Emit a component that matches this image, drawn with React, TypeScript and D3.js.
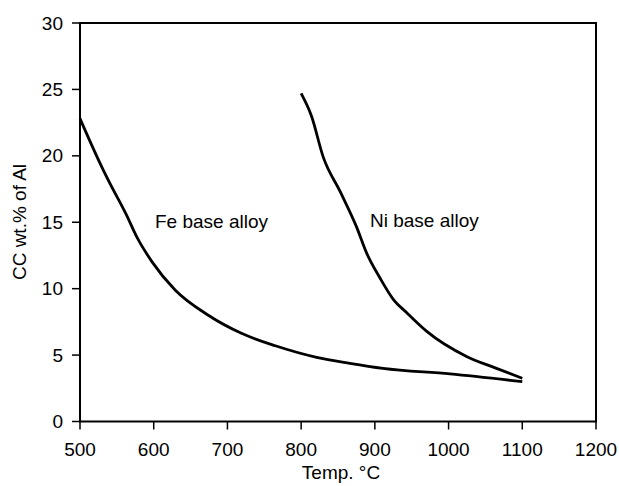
import React from "react";
import * as d3 from "d3";

const xTicks = [500, 600, 700, 800, 900, 1000, 1100, 1200];
const yTicks = [0, 5, 10, 15, 20, 25, 30];

const feTemp = [500, 525, 538, 563, 577, 598, 629, 674, 719, 765, 821, 866, 911, 1002, 1100];
const feAl = [22.8, 19.7, 18.2, 15.55, 13.9, 12.0, 9.9, 8.0, 6.64, 5.7, 4.83, 4.38, 4.0, 3.58, 3.0];

const niTemp = [800, 814, 830, 853, 875, 889, 907, 925, 943, 970, 1025, 1065, 1100];
const niAl = [24.7, 23.0, 19.9, 17.3, 14.67, 12.66, 10.8, 9.2, 8.2, 6.8, 4.88, 4.0, 3.25];

const W = 619;
const H = 486;
const m = { left: 80, right: 596, top: 23, bottom: 421.5 };
const font = "Arial, 'Liberation Sans', Helvetica, sans-serif";
const fs = 19;

export default function App() {
  const x = d3.scaleLinear().domain([500, 1200]).range([m.left, m.right]);
  const y = d3.scaleLinear().domain([0, 30]).range([m.bottom, m.top]);
  const line = d3
    .line<[number, number]>()
    .x((d) => x(d[0]))
    .y((d) => y(d[1]))
    .curve(d3.curveMonotoneX);
  const fe = line(feTemp.map((t, i) => [t, feAl[i]] as [number, number])) || "";
  const ni = line(niTemp.map((t, i) => [t, niAl[i]] as [number, number])) || "";

  return (
    <svg
      width={W}
      height={H}
      style={{ position: "absolute", left: 0, top: 0, background: "#fff" }}
      fontFamily={font}
    >
      <rect x={0} y={0} width={W} height={H} fill="#fff" />
      <rect
        x={m.left}
        y={m.top}
        width={m.right - m.left}
        height={m.bottom - m.top}
        fill="none"
        stroke="#000"
        strokeWidth={2}
      />
      {yTicks.map((t) => (
        <g key={"y" + t}>
          <line x1={m.left - 8} x2={m.left} y1={y(t)} y2={y(t)} stroke="#000" strokeWidth={1.5} />
          <text x={m.left - 17} y={y(t)} dy="0.35em" textAnchor="end" fontSize={fs} fill="#000">
            {t}
          </text>
        </g>
      ))}
      {xTicks.map((t) => (
        <g key={"x" + t}>
          <line x1={x(t)} x2={x(t)} y1={m.bottom} y2={m.bottom + 8} stroke="#000" strokeWidth={1.5} />
          <text x={x(t)} y={456} textAnchor="middle" fontSize={fs} fill="#000">
            {t}
          </text>
        </g>
      ))}
      <path d={fe} fill="none" stroke="#000" strokeWidth={2.8} strokeLinejoin="round" />
      <path d={ni} fill="none" stroke="#000" strokeWidth={2.8} strokeLinejoin="round" />
      <text x={155} y={228} fontSize={fs} fill="#000">Fe base alloy</text>
      <text x={370} y={227} fontSize={fs} fill="#000">Ni base alloy</text>
      <text x={341} y={479} textAnchor="middle" fontSize={fs} fill="#000">
        Temp. °C
      </text>
      <text
        transform={`translate(26, 222) rotate(-90)`}
        textAnchor="middle"
        fontSize={fs}
        fill="#000"
      >
        CC wt.% of Al
      </text>
    </svg>
  );
}
